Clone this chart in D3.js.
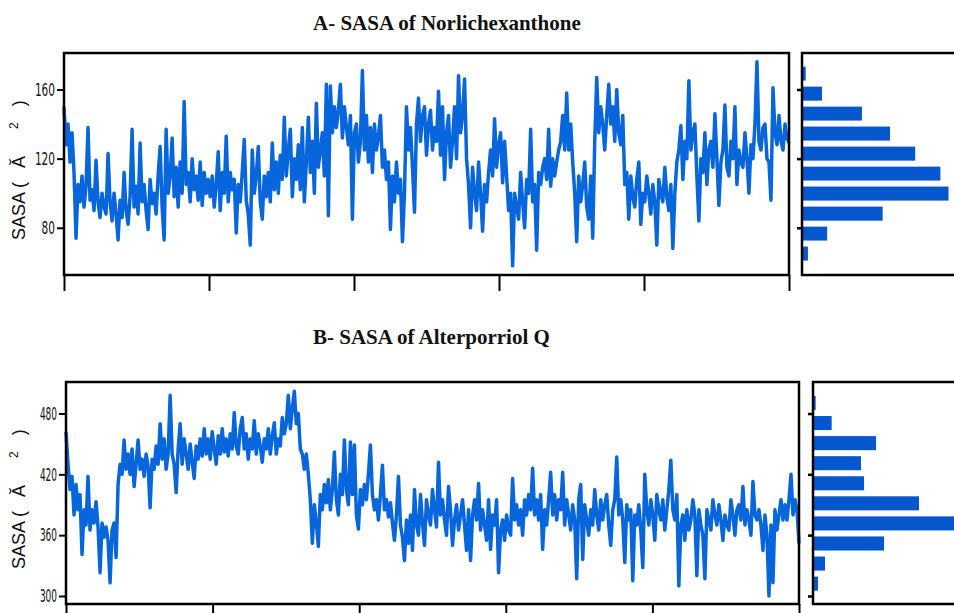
<!DOCTYPE html>
<html>
<head>
<meta charset="utf-8">
<script src="https://cdn.jsdelivr.net/npm/d3@7"></script>
<style>
	body { margin: 0; background: #fff; }
	svg { display: block; }
</style>
</head>
<body>
<div id="chart"></div>
<script>
// SASA traces (Å²), evenly sampled over the run
const sasaNorlichexanthone = [
	150, 128, 140, 118, 135, 112, 74, 105, 95, 110,
	92, 104, 138, 96, 102, 90, 119, 95, 86, 100,
	92, 88, 123, 95, 84, 100, 88, 73, 96, 86,
	112, 90, 82, 98, 137, 92, 104, 88, 129, 95,
	105, 90, 79, 108, 94, 100, 88, 110, 127, 92,
	73, 137, 100, 110, 132, 98, 115, 92, 118, 100,
	153, 105, 112, 95, 120, 102, 110, 96, 118, 93,
	112, 100, 108, 98, 110, 92, 105, 124, 90, 112,
	100, 133, 95, 112, 102, 108, 77, 105, 95, 112,
	131, 96, 88, 70, 125, 100, 110, 127, 95, 85,
	110, 98, 112, 95, 129, 102, 118, 100, 122, 108,
	144, 110, 125, 137, 98, 120, 108, 128, 102, 138,
	95, 118, 144, 112, 130, 100, 152, 115, 125, 135,
	110, 163, 87, 162, 135, 150, 138, 148, 163, 132,
	150, 138, 128, 145, 85, 135, 140, 118, 130, 171,
	125, 145, 118, 138, 112, 140, 125, 133, 145, 115,
	125, 108, 118, 79, 110, 95, 118, 100, 108, 72,
	100, 150, 125, 138, 115, 89, 140, 155, 130, 145,
	150, 122, 140, 148, 125, 138, 130, 159, 122, 150,
	108, 135, 145, 115, 130, 150, 120, 168, 135, 145,
	166, 120, 105, 80, 115, 100, 90, 118, 100, 78,
	105, 95, 112, 125, 110, 143, 115, 128, 135, 106,
	130, 110, 90, 100, 58, 100, 92, 85, 112, 95,
	80, 108, 100, 137, 95, 105, 67, 112, 105, 115,
	120, 108, 137, 104, 120, 110, 118, 125, 130, 145,
	125, 158, 125, 140, 118, 100, 72, 110, 95, 105,
	118, 92, 85, 110, 74, 130, 167, 135, 150, 140,
	125, 145, 163, 140, 150, 130, 160, 135, 128, 145,
	105, 112, 85, 110, 98, 92, 108, 118, 82, 100,
	95, 110, 100, 88, 105, 95, 70, 108, 100, 95,
	115, 98, 90, 105, 68, 100, 118, 125, 139, 108,
	130, 120, 165, 125, 135, 140, 110, 84, 120, 112,
	135, 105, 125, 130, 115, 146, 120, 93, 118, 125,
	151, 115, 110, 130, 120, 150, 105, 125, 118, 115,
	135, 120, 100, 128, 120, 140, 176, 130, 125, 138,
	140, 120, 118, 96, 161, 135, 128, 145, 130, 125,
	140, 132, 129
]

const sasaAlterporriol = [
	462, 430, 405, 418, 380, 410, 385, 400, 341, 385,
	370, 418, 365, 385, 372, 393, 368, 323, 372, 358,
	368, 355, 313, 365, 372, 338, 410, 430, 420, 454,
	425, 440, 420, 445, 408, 430, 454, 425, 435, 418,
	440, 428, 387, 435, 425, 448, 430, 470, 435, 455,
	425, 440, 498, 440, 430, 402, 445, 470, 430, 455,
	440, 425, 450, 432, 416, 448, 435, 455, 438, 465,
	440, 455, 435, 462, 445, 430, 458, 440, 465, 442,
	455, 438, 460, 445, 481, 448, 440, 465, 476, 445,
	460, 435, 455, 445, 473, 440, 460, 448, 432, 455,
	445, 465, 440, 458, 471, 440, 455, 448, 476, 460,
	470, 498, 465, 485, 502, 470, 480, 445, 440, 425,
	440, 420, 395, 352, 390, 372, 349, 400, 385, 410,
	392, 415, 385, 405, 442, 395, 380, 420, 400, 454,
	405, 390, 452, 400, 449, 380, 366, 405, 390, 410,
	395, 420, 449, 400, 385, 395, 375, 400, 429, 385,
	395, 378, 392, 372, 355, 380, 418, 370, 358, 335,
	375, 352, 380, 345, 405, 370, 360, 400, 372, 350,
	395, 380, 370, 405, 385, 368, 432, 380, 395, 375,
	360, 408, 385, 350, 375, 390, 365, 380, 395, 370,
	345, 385, 335, 380, 395, 375, 411, 365, 385, 370,
	355, 395, 346, 380, 370, 395, 323, 365, 375, 355,
	380, 365, 360, 416, 375, 390, 370, 385, 360, 395,
	380, 400, 385, 426, 380, 395, 375, 400, 346, 385,
	370, 395, 422, 380, 400, 375, 395, 385, 422, 370,
	395, 380, 365, 390, 375, 317, 395, 410, 336, 390,
	375, 360, 385, 370, 405, 380, 365, 395, 375, 390,
	400, 370, 350, 385, 395, 437, 380, 395, 375, 333,
	390, 375, 385, 315, 380, 370, 390, 365, 328, 420,
	385, 370, 395, 380, 355, 400, 385, 375, 395, 365,
	385, 405, 434, 385, 375, 400, 310, 370, 380, 355,
	385, 365, 375, 395, 380, 320, 385, 370, 360, 317,
	385, 375, 365, 395, 380, 370, 390, 375, 355, 380,
	370, 365, 395, 380, 360, 385, 390, 375, 408, 370,
	385, 375, 360, 413, 380, 375, 385, 370, 345, 380,
	360, 300, 370, 313, 385, 365, 380, 395, 375, 390,
	375, 395, 420, 380, 395, 385, 352
]

// histograms (bin edges in Å², frame counts)
const binEdgesNorlichexanthone = [59.3, 70.9, 82.4, 94.0, 105.6, 117.1, 128.7, 140.3, 151.8, 163.4, 174.9]
const binCountsNorlichexanthone = [40, 170, 545, 990, 935, 765, 595, 405, 135, 25]

const binEdgesAlterporriol = [302.3, 322.1, 341.9, 361.7, 381.5, 401.3, 421.1, 440.9, 460.7, 480.5, 500.3]
const binCountsAlterporriol = [34, 81, 480, 1150, 716, 345, 324, 426, 126, 18]

const yTicksNorlichexanthone = [80, 120, 160]
const yTicksAlterporriol = [300, 360, 420, 480]
const timeTicks = [0, 20, 40, 60, 80, 100]

const titleNorlichexanthone = "A- SASA of Norlichexanthone"
const titleAlterporriol = "B- SASA of Alterporriol Q"

const LINE_COLOR = "#0866dc"
const BAR_COLOR = "#0457cc"

class SasaPanel {
	constructor(svg, cfg) {
		this.svg = svg
		this.cfg = cfg
	}

	draw() {
		this.createScales()
		this.drawTitle()
		this.drawLabel()
		this.drawSeries()
		this.drawAxes()
		this.drawHistogram()
	}

	createScales() {
		const c = this.cfg
		this.x = d3.scaleLinear().domain([0, 100]).range([c.left, c.right])
		this.y = d3.scaleLinear().domain(c.yDomain).range([c.bottom, c.top])
		this.hx = d3
			.scaleLinear()
			.domain([0, 1000])
			.range([c.histLeft, c.histLeft + 148])
	}

	drawTitle() {
		const c = this.cfg
		this.svg
			.append("text")
			.attr("x", c.titleX)
			.attr("y", c.titleY)
			.style("font-family", "'Liberation Serif', 'Times New Roman', serif")
			.style("font-weight", "bold")
			.style("font-size", "21px")
			.style("fill", "#111")
			.text(c.title)
	}

	drawLabel() {
		const c = this.cfg
		// y label reads bottom-to-top, starting a little above the frame bottom
		const label = this.svg
			.append("text")
			.attr("transform", `translate(25,${c.bottom - 35}) rotate(-90)`)
			.attr("text-anchor", "start")
			.style("font-family", "'Liberation Sans', Arial, sans-serif")
			.style("font-size", "18px")
			.style("fill", "#111")
		label.append("tspan").text("SASA (")
		label.append("tspan").attr("dx", 14).text("Ă")
		label
			.append("tspan")
			.attr("dx", 27)
			.attr("dy", -7)
			.style("font-size", "12px")
			.text("2")
		label.append("tspan").attr("dx", 16).attr("dy", 7).text(")")
	}

	drawSeries() {
		const c = this.cfg
		const n = c.values.length
		const line = d3
			.line()
			.x((d, i) => this.x((i * 100) / (n - 1)))
			.y((d) => this.y(d))

		this.svg
			.append("path")
			.datum(c.values)
			.attr("fill", "none")
			.attr("stroke", LINE_COLOR)
			.attr("stroke-width", 3.5)
			.attr("stroke-linejoin", "round")
			.attr("d", line)
	}

	drawAxes() {
		const c = this.cfg

		const yAxis = this.svg
			.append("g")
			.attr("transform", `translate(${c.left},0)`)
			.call(d3.axisLeft(this.y).tickValues(c.yTicks).tickSize(7).tickPadding(2))
		yAxis.select(".domain").remove()
		yAxis.selectAll("line").attr("stroke", "#000").attr("stroke-width", 2)
		yAxis
			.selectAll("text")
			.style("font-family", "'Liberation Sans Narrow', 'DejaVu Sans Condensed', sans-serif")
			.style("font-size", "18px")
			.attr("fill", "#111")
			.attr("textLength", (d) => String(d).length * c.digitWidth)
			.attr("lengthAdjust", "spacingAndGlyphs")

		const xAxis = this.svg
			.append("g")
			.attr("transform", `translate(0,${c.bottom})`)
			.call(d3.axisBottom(this.x).tickValues(timeTicks).tickSize(16).tickFormat(""))
		xAxis.select(".domain").remove()
		xAxis.selectAll("line").attr("stroke", "#000").attr("stroke-width", 2)

		// frame
		this.svg
			.append("rect")
			.attr("x", c.left)
			.attr("y", c.top)
			.attr("width", c.right - c.left)
			.attr("height", c.bottom - c.top)
			.attr("fill", "none")
			.attr("stroke", "#000")
			.attr("stroke-width", 2.5)
	}

	drawHistogram() {
		const c = this.cfg
		const bins = c.binCounts.map((count, i) => ({
			lo: c.binEdges[i],
			hi: c.binEdges[i + 1],
			count,
		}))

		this.svg
			.append("g")
			.selectAll("rect")
			.data(bins)
			.join("rect")
			.attr("x", this.hx(0))
			.attr("y", (d) => {
				const h = this.y(d.lo) - this.y(d.hi)
				return this.y(d.hi) + h * 0.15
			})
			.attr("width", (d) => this.hx(d.count) - this.hx(0))
			.attr("height", (d) => (this.y(d.lo) - this.y(d.hi)) * 0.7)
			.attr("fill", BAR_COLOR)

		const hAxis = this.svg
			.append("g")
			.attr("transform", `translate(${c.histLeft},0)`)
			.call(d3.axisLeft(this.y).tickValues(c.yTicks).tickSize(5).tickFormat(""))
		hAxis.select(".domain").remove()
		hAxis.selectAll("line").attr("stroke", "#000").attr("stroke-width", 2.5)

		this.svg
			.append("rect")
			.attr("x", c.histLeft)
			.attr("y", c.top)
			.attr("width", 220)
			.attr("height", c.bottom - c.top)
			.attr("fill", "none")
			.attr("stroke", "#000")
			.attr("stroke-width", 2.5)
	}
}

const svg = d3
	.select("#chart")
	.append("svg")
	.attr("width", 954)
	.attr("height", 613)
	.style("background", "#fff")

new SasaPanel(svg, {
	title: titleNorlichexanthone,
	titleX: 313,
	titleY: 30,
	values: sasaNorlichexanthone,
	yDomain: [52.7, 181.1],
	yTicks: yTicksNorlichexanthone,
	binEdges: binEdgesNorlichexanthone,
	binCounts: binCountsNorlichexanthone,
	left: 64,
	right: 789,
	top: 53,
	bottom: 275,
	histLeft: 802,
	digitWidth: 6.7,
}).draw()

new SasaPanel(svg, {
	title: titleAlterporriol,
	titleX: 313,
	titleY: 344,
	values: sasaAlterporriol,
	yDomain: [292.1, 511.1],
	yTicks: yTicksAlterporriol,
	binEdges: binEdgesAlterporriol,
	binCounts: binCountsAlterporriol,
	left: 66,
	right: 799,
	top: 382,
	bottom: 604,
	histLeft: 813,
	digitWidth: 5.7,
}).draw()
</script>
</body>
</html>
